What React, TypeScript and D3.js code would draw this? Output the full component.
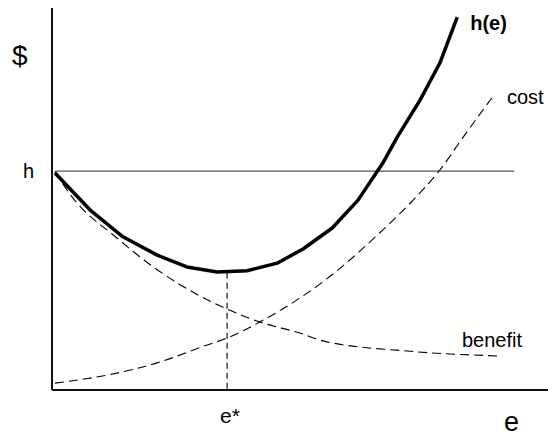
import { useEffect, useRef } from 'react'
import * as d3 from 'd3'

// effort level e (0..100 across the plot) and $ value (0..100 up the plot)
const hCurveE = [0.6, 7.7, 14.3, 21.2, 27.2, 33.3, 39.3, 45.4, 50.6, 56.5, 61.7, 66.7, 69.6, 74.2, 78.2, 81.7]
const hCurveV = [56.8, 47.1, 40.1, 35.3, 32.2, 30.9, 31.2, 33.2, 36.9, 42.4, 49.7, 59.4, 66.2, 75.9, 85.6, 97.6]

const costE = [0.6, 11.1, 21.2, 31.3, 35.3, 41.9, 50.0, 55.4, 66.7, 72.8, 78.2, 82.9, 89.1]
const costV = [1.8, 3.9, 7.1, 11.8, 13.6, 17.8, 24.1, 29.1, 41.9, 49.7, 57.6, 66.2, 77.2]

const benefitE = [0.6, 4.2, 13.1, 19.8, 27.2, 35.3, 41.9, 50.0, 54.8, 71.6, 90.1]
const benefitV = [57.1, 50.3, 39.8, 32.8, 26.5, 21.2, 17.8, 14.9, 12.8, 10.2, 8.9]

const hLevel = 57.3
const eStar = 35.3
const eStarTop = 30.7

const W = 548
const H = 436
const FONT = 'Liberation Sans, Arial, sans-serif'

function App() {
  const ref = useRef<SVGSVGElement | null>(null)

  useEffect(() => {
    if (!ref.current) return
    const svg = d3.select(ref.current)
    svg.selectAll('*').remove()

    // origin of the axes sits at (52, 390)
    const x = d3.scaleLinear().domain([0, 100]).range([52, 548])
    const y = d3.scaleLinear().domain([0, 100]).range([390, 8])

    const toPts = (es: number[], vs: number[]) => es.map((e, i) => [e, vs[i]] as [number, number])

    const lineLinear = d3.line<[number, number]>()
      .x(d => x(d[0]))
      .y(d => y(d[1]))
    const lineSmooth = d3.line<[number, number]>()
      .x(d => x(d[0]))
      .y(d => y(d[1]))
      .curve(d3.curveMonotoneX)

    // horizontal h level
    svg.append('line')
      .attr('x1', x(0.6)).attr('x2', x(93.2))
      .attr('y1', y(hLevel)).attr('y2', y(hLevel))
      .attr('stroke', '#555').attr('stroke-width', 1.3)

    // e* drop line
    svg.append('line')
      .attr('x1', x(eStar)).attr('x2', x(eStar))
      .attr('y1', y(eStarTop)).attr('y2', y(0))
      .attr('stroke', '#000').attr('stroke-width', 1.1)
      .attr('stroke-dasharray', '6,4')

    // dashed cost and benefit curves
    svg.append('path')
      .attr('d', lineSmooth(toPts(costE, costV)))
      .attr('fill', 'none').attr('stroke', '#000').attr('stroke-width', 1.1)
      .attr('stroke-dasharray', '9,5')
    svg.append('path')
      .attr('d', lineSmooth(toPts(benefitE, benefitV)))
      .attr('fill', 'none').attr('stroke', '#000').attr('stroke-width', 1.1)
      .attr('stroke-dasharray', '9,5')

    // h(e) total curve
    svg.append('path')
      .attr('d', lineLinear(toPts(hCurveE, hCurveV)))
      .attr('fill', 'none').attr('stroke', '#000').attr('stroke-width', 3.5)
      .attr('stroke-linejoin', 'round')

    // axes
    svg.append('line')
      .attr('x1', x(0)).attr('x2', x(0))
      .attr('y1', y(100)).attr('y2', y(0))
      .attr('stroke', '#111').attr('stroke-width', 2)
    svg.append('line')
      .attr('x1', x(0)).attr('x2', x(100))
      .attr('y1', y(0)).attr('y2', y(0))
      .attr('stroke', '#111').attr('stroke-width', 2)

    const label = (tx: number, ty: number, text: string, size: number, bold = false) =>
      svg.append('text')
        .attr('x', tx).attr('y', ty)
        .attr('font-family', FONT)
        .attr('font-size', size)
        .attr('font-weight', bold ? 'bold' : 'normal')
        .attr('fill', '#000')
        .text(text)

    label(12, 65, '$', 28)
    label(23, y(hLevel) + 7, 'h', 20)
    label(x(hCurveE[hCurveE.length - 1]) + 13, 30, 'h(e)', 20, true)
    label(x(costE[costE.length - 1]) + 13, 104, 'cost', 20)
    label(462, 347, 'benefit', 20)
    label(x(eStar) - 7, 423, 'e*', 21)
    label(504, 431, 'e', 27)
  }, [])

  return (
    <svg
      ref={ref}
      width={W}
      height={H}
      style={{ position: 'absolute', left: 0, top: 0, background: '#fff' }}
    />
  )
}

export default App
